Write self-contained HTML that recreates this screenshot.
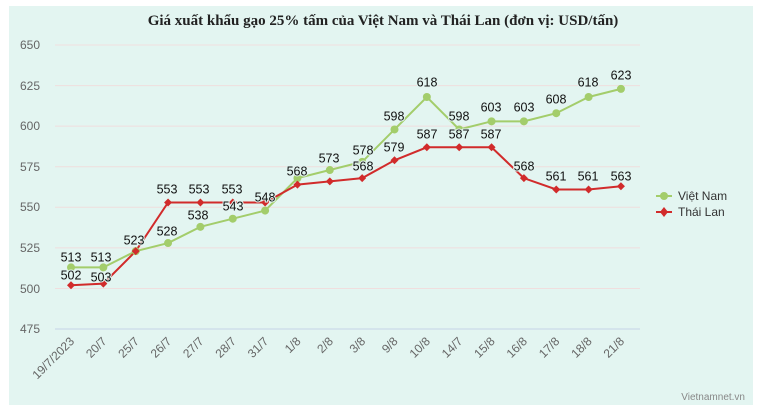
<!DOCTYPE html><html><head><meta charset="utf-8"><style>body{margin:0;background:#fff}svg{display:block}</style></head><body>
<svg width="761" height="414" xmlns="http://www.w3.org/2000/svg" font-family="Liberation Sans, DejaVu Sans, sans-serif">
<rect x="9" y="6" width="744" height="399" fill="#e3f5f1"/>
<text x="383" y="25" text-anchor="middle" font-family="Liberation Serif, serif" font-weight="bold" font-size="15" fill="#222">Giá xuất khẩu gạo 25% tấm của Việt Nam và Thái Lan (đơn vị: USD/tấn)</text>
<g stroke="#f0dede" stroke-width="1">
<line x1="55" x2="640" y1="45" y2="45"/><line x1="55" x2="640" y1="85.6" y2="85.6"/><line x1="55" x2="640" y1="126.1" y2="126.1"/><line x1="55" x2="640" y1="166.7" y2="166.7"/><line x1="55" x2="640" y1="207.3" y2="207.3"/><line x1="55" x2="640" y1="247.9" y2="247.9"/><line x1="55" x2="640" y1="288.5" y2="288.5"/>
</g>
<line x1="55" x2="640" y1="329" y2="329" stroke="#c5d3e6"/>
<g font-size="12" fill="#666" text-anchor="end">
<text x="40" y="49">650</text><text x="40" y="90">625</text><text x="40" y="130">600</text><text x="40" y="171">575</text><text x="40" y="211">550</text><text x="40" y="252">525</text><text x="40" y="293">500</text><text x="40" y="333">475</text>
</g>
<g font-size="12" fill="#666" text-anchor="end" id="xl"></g>
<polyline fill="none" stroke="#a3cd6b" stroke-width="2" id="vn"/>
<polyline fill="none" stroke="#d12b2b" stroke-width="2" id="th"/>
<g id="pts"></g>
<g font-size="12.5" fill="#111" text-anchor="middle" dominant-baseline="middle" stroke="#e3f5f1" stroke-width="2" paint-order="stroke" id="lb"></g>
<circle cx="664" cy="196" r="4" fill="#a3cd6b"/><line x1="656" x2="672" y1="196" y2="196" stroke="#a3cd6b" stroke-width="2"/>
<text x="678" y="200" font-size="12" fill="#333">Việt Nam</text>
<line x1="656" x2="672" y1="212" y2="212" stroke="#d12b2b" stroke-width="2"/><path d="M664 207 L668 212 L664 217 L660 212Z" fill="#d12b2b"/>
<text x="678" y="216" font-size="12" fill="#333">Thái Lan</text>
<text x="745" y="400" font-size="10" fill="#888" text-anchor="end">Vietnamnet.vn</text>
<script>
var ns="http://www.w3.org/2000/svg";
var X=i=>71+32.35*i,Y=v=>288.5-(v-500)*1.623;
var labs=["19/7/2023","20/7","25/7","26/7","27/7","28/7","31/7","1/8","2/8","3/8","9/8","10/8","14/7","15/8","16/8","17/8","18/8","21/8"];
var vn=[513,513,523,528,538,543,548,568,573,578,598,618,598,603,603,608,618,623];
var th=[502,503,523,553,553,553,553,564,566,568,579,587,587,587,568,561,561,563];
function el(t,a,p,txt){var e=document.createElementNS(ns,t);for(var k in a)e.setAttribute(k,a[k]);if(txt)e.textContent=txt;document.getElementById(p).appendChild(e);}
document.getElementById("vn").setAttribute("points",vn.map((v,i)=>X(i)+","+Y(v)).join(" "));
document.getElementById("th").setAttribute("points",th.map((v,i)=>X(i)+","+Y(v)).join(" "));
labs.forEach((l,i)=>{var x=X(i)+4,y=342;el("text",{x:x,y:y,transform:"rotate(-45 "+x+" "+y+")"},"xl",l);});
vn.forEach((v,i)=>el("circle",{cx:X(i),cy:Y(v),r:4,fill:"#a3cd6b"},"pts"));
th.forEach((v,i)=>{var x=X(i),y=Y(v);el("path",{d:"M"+x+" "+(y-4)+"L"+(x+4)+" "+y+"L"+x+" "+(y+4)+"L"+(x-4)+" "+y+"Z",fill:"#d12b2b"},"pts");});
var L=[[71,258,513],[101,258,513],[134,241,523],[167,232,528],[198,216,538],[233,207,543],[265,198,548],[297,172,568],[329,159,573],[363,151,578],[394,117,598],[427,83,618],[459,117,598],[491,108,603],[524,108,603],[556,100,608],[588,83,618],[621,76,623],
[71,276,502],[101,278,503],[167,190,553],[199,190,553],[232,190,553],[363,167,568],[394,148,579],[427,135,587],[459,135,587],[491,135,587],[524,167,568],[556,177,561],[588,177,561],[621,177,563]];
L.forEach(a=>el("text",{x:a[0],y:a[1]},"lb",a[2]));
</script>
</svg></body></html>
